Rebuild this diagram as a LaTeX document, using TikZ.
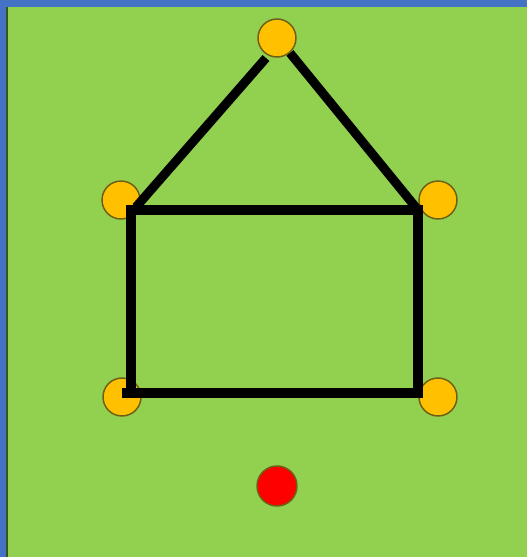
\documentclass[tikz,border=0pt]{standalone}
\usepackage{tikz}
\usetikzlibrary{positioning}
\usepackage{xcolor}
\definecolor{bggreen}{RGB}{146,208,80}
\definecolor{frameblue}{RGB}{68,114,196}
\definecolor{dotyellow}{RGB}{255,192,0}
\definecolor{dotrim}{RGB}{110,95,20}
\definecolor{dotred}{RGB}{255,0,0}

\begin{document}
\begin{tikzpicture}[x=0.75pt,y=-0.75pt,
    dot/.style={circle,draw=dotrim,line width=1.1pt,inner sep=0pt,minimum size=28.5pt},
    wall/.style={draw=black,line width=6.8pt}]
    \useasboundingbox (0,0) rectangle (527,557);
    \fill[frameblue] (0,0) rectangle (527,557);
    \fill[bggreen] (6,7) rectangle (527,557);
    \draw[black!60!bggreen,line width=1.2pt] (6.8,7) -- (6.8,557);
    % corners of the house
    \coordinate (apexL) at (266,58);
    \coordinate (apexR) at (290,53);
    \coordinate (roofL) at (136,207);
    \coordinate (eaveL) at (131,210);
    \coordinate (eaveR) at (418,210);
    \coordinate (footL) at (131,393);
    \coordinate (baseL) at (122,393);
    \coordinate (baseR) at (418,393);
    \node[dot,fill=dotyellow] (peak) at (277,38) {};
    \node[dot,fill=dotyellow] (midL) at (121,200) {};
    \node[dot,fill=dotyellow] (midR) at (438,200) {};
    \node[dot,fill=dotyellow] (lowL) at (122,397) {};
    \node[dot,fill=dotyellow] (lowR) at (438,397) {};
    \node[dot,fill=dotred,minimum size=30pt] (goal) at (277,486) {};
    \draw[wall] (apexL) -- (roofL);
    \draw[wall] (apexR) -- (eaveR);
    \draw[wall,line join=miter] (eaveR) -- (eaveL) -- (footL) -- (baseR) -- cycle;
    \draw[wall] (baseL) -- (footL);
  \end{tikzpicture}
\end{document}
